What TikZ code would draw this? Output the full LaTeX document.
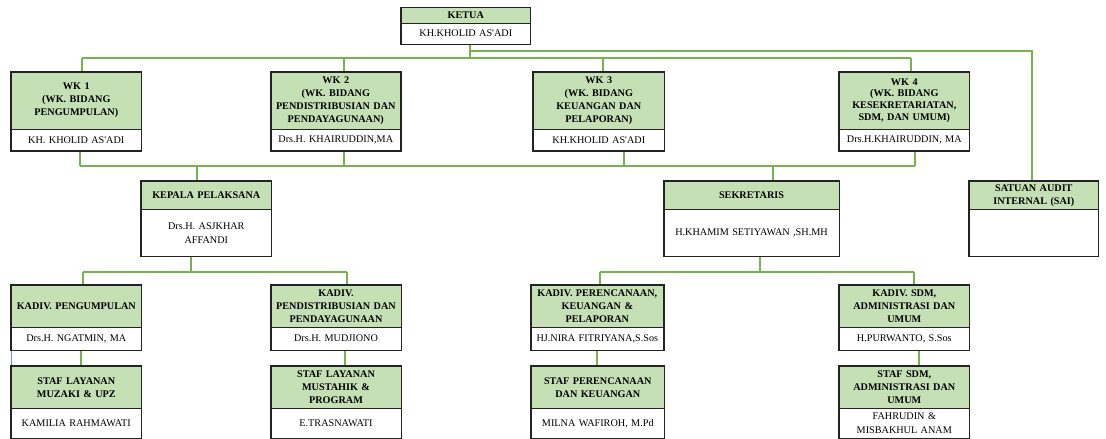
\documentclass[tikz,border=0pt]{standalone}
\usepackage{fontspec}
\setmainfont{Liberation Serif}
\usetikzlibrary{backgrounds}
\definecolor{hdrfill}{RGB}{197,224,180}
\definecolor{connc}{RGB}{118,178,78}
\definecolor{boxline}{RGB}{35,35,35}
\definecolor{bluec}{RGB}{110,145,205}
\tikzset{
 hdrbox/.style={draw=boxline, line width=0.6pt, fill=hdrfill, inner sep=0pt, anchor=north west, align=center, font=\bfseries\fontsize{10.2}{13}\selectfont},
 bodybox/.style={draw=boxline, line width=0.6pt, fill=white, inner sep=0pt, anchor=north west, align=center, font=\fontsize{10.2}{14}\selectfont},
 outerbox/.style={draw=boxline, line width=1.5pt},
 conn/.style={draw=connc, line width=1.7pt},
 thinblue/.style={draw=bluec, line width=0.6pt}
}
\newcommand\orgbox[8]{%
 \pgfmathsetmacro\obw{#3-#2}%
 \pgfmathsetmacro\obh{#5-#4}%
 \pgfmathsetmacro\obb{#6-#5}%
 \node[hdrbox, minimum width=\obw pt, minimum height=\obh pt, text width=\obw pt] (#1) at (#2,#4) {#7};
 \node[bodybox, minimum width=\obw pt, minimum height=\obb pt, text width=\obw pt] (#1b) at (#2,#5) {#8};
 \draw[outerbox] (#1.north west) rectangle (#1b.south east);
}
\begin{document}
\begin{tikzpicture}[x=1pt,y=-1pt]
\useasboundingbox (0,0) rectangle (1106,439);
% boxes
\orgbox{ketua}{401}{530}{7.3}{22.7}{44}{KETUA}{KH.KHOLID AS\textquotesingle ADI}
\orgbox{wk1}{11}{141}{71.7}{128.7}{150.3}{WK 1\\(WK. BIDANG\\PENGUMPULAN)}{KH. KHOLID AS\textquotesingle ADI}
\orgbox{wk2}{270.5}{400.5}{71.7}{128.7}{150.3}{WK 2\\(WK. BIDANG\\PENDISTRIBUSIAN DAN\\PENDAYAGUNAAN)}{Drs.H. KHAIRUDDIN,MA}
\orgbox{wk3}{533}{664}{71.7}{128.7}{150.3}{WK 3\\(WK. BIDANG\\KEUANGAN DAN\\PELAPORAN)}{KH.KHOLID AS\textquotesingle ADI}
\orgbox{wk4}{839}{969}{71.7}{128.7}{150.3}{WK 4\\[-1.2pt](WK. BIDANG\\[-1.2pt]KESEKRETARIATAN,\\[-1.2pt]SDM, DAN UMUM)}{Drs.H.KHAIRUDDIN, MA}
\orgbox{kep}{141}{271}{180.7}{209.3}{256}{KEPALA PELAKSANA}{Drs.H. ASJKHAR\\AFFANDI}
\orgbox{sek}{663.5}{839}{180.7}{209.3}{256}{SEKRETARIS}{H.KHAMIM SETIYAWAN ,SH.MH}
\orgbox{sai}{969}{1098}{180.7}{209.3}{256}{SATUAN AUDIT\\INTERNAL (SAI)}{}
\orgbox{kd1}{11}{141}{285}{326.7}{350}{KADIV. PENGUMPULAN}{Drs.H. NGATMIN, MA}
\orgbox{kd2}{270.7}{400.7}{285}{326.7}{350}{KADIV.\\PENDISTRIBUSIAN DAN\\PENDAYAGUNAAN}{Drs.H. MUDJIONO}
\orgbox{kd3}{530.5}{663.5}{285}{326.7}{350}{KADIV. PERENCANAAN,\\KEUANGAN \&\\PELAPORAN}{HJ.NIRA FITRIYANA,S.Sos}
\orgbox{kd4}{839}{969}{285}{326.7}{350}{KADIV. SDM,\\ADMINISTRASI DAN\\UMUM}{H.PURWANTO, S.Sos}
\orgbox{st1}{11}{141}{366}{408.3}{438.3}{STAF LAYANAN\\MUZAKI \& UPZ}{KAMILIA RAHMAWATI}
\orgbox{st2}{270.7}{400.7}{366}{408.3}{438.3}{STAF LAYANAN\\MUSTAHIK \&\\PROGRAM}{E.TRASNAWATI}
\orgbox{st3}{531}{664}{366}{408.3}{438.3}{STAF PERENCANAAN\\DAN KEUANGAN}{MILNA WAFIROH, M.Pd}
\orgbox{st4}{839}{969}{366}{408.3}{438.3}{STAF SDM,\\ADMINISTRASI DAN\\UMUM}{FAHRUDIN \&\\MISBAKHUL ANAM}
% connectors
\begin{scope}[on background layer]
\fill[white] (0,0) rectangle (1106,439);
% top buses
\coordinate (k0) at (470,58);
\coordinate (s0) at (470,51);
\coordinate (s1) at (1032,51);
\draw[conn] (ketuab.south -| k0) -- (k0);
\draw[conn] (s0) -- (s1) -- (s1 |- sai.north);
\coordinate (w1) at (82,58);
\coordinate (w2) at (344,58);
\coordinate (w3) at (603,58);
\coordinate (w4) at (911,58);
\draw[conn] (w1) -- (w4);
\draw[conn] (w1) -- (w1 |- wk1.north);
\draw[conn] (w2) -- (w2 |- wk2.north);
\draw[conn] (w3) -- (w3 |- wk3.north);
\draw[conn] (w4) -- (w4 |- wk4.north);
% middle bus
\coordinate (m1) at (80,166);
\coordinate (m2) at (344,166);
\coordinate (m3) at (624,166);
\coordinate (m4) at (915,166);
\coordinate (mk) at (197,166);
\coordinate (ms) at (773,166);
\draw[conn] (m1) -- (m4);
\draw[conn] (wk1b.south -| m1) -- (m1);
\draw[conn] (wk2b.south -| m2) -- (m2);
\draw[conn] (wk3b.south -| m3) -- (m3);
\draw[conn] (wk4b.south -| m4) -- (m4);
\draw[conn] (mk) -- (mk |- kep.north);
\draw[conn] (ms) -- (ms |- sek.north);
% lower left bus
\coordinate (l0) at (191,272);
\coordinate (l1) at (83,272);
\coordinate (l2) at (347,272);
\draw[conn] (kepb.south -| l0) -- (l0);
\draw[conn] (l1) -- (l2);
\draw[conn] (l1) -- (l1 |- kd1.north);
\draw[conn] (l2) -- (l2 |- kd2.north);
% lower right bus
\coordinate (r0) at (760,272);
\coordinate (r3) at (600,272);
\coordinate (r4) at (914,272);
\draw[conn] (sekb.south -| r0) -- (r0);
\draw[conn] (r3) -- (r4);
\draw[conn] (r3) -- (r3 |- kd3.north);
\draw[conn] (r4) -- (r4 |- kd4.north);
% kadiv to staf
\coordinate (v1) at (81,358);
\coordinate (v2) at (345,358);
\coordinate (v3) at (597,358);
\coordinate (v4) at (919,358);
\draw[conn] (kd1b.south -| v1) -- (st1.north -| v1);
\draw[conn] (kd2b.south -| v2) -- (st2.north -| v2);
\draw[conn] (kd3b.south -| v3) -- (st3.north -| v3);
\draw[conn] (kd4b.south -| v4) -- (st4.north -| v4);
\draw[thinblue] (kd1b.south west) -- (st1.north west);
\end{scope}
\end{tikzpicture}
\end{document}
